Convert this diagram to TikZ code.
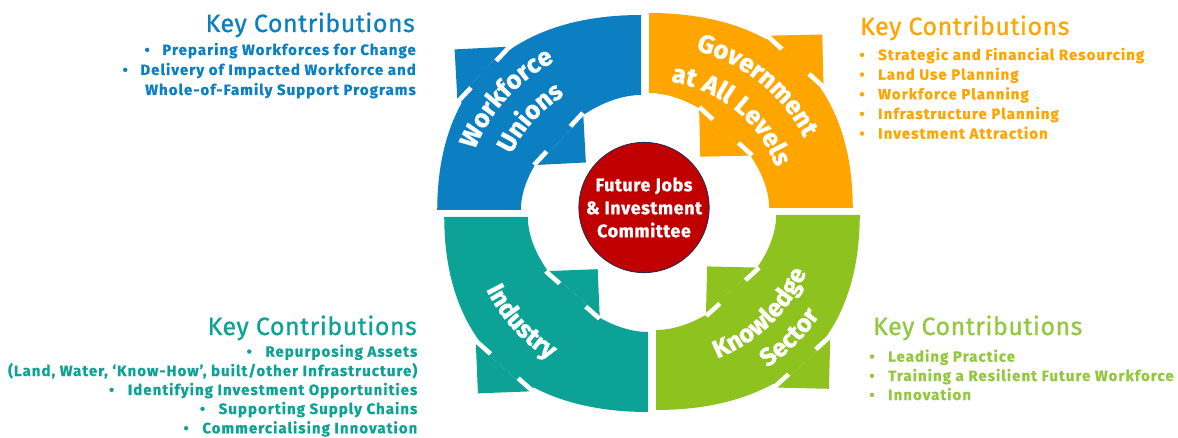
\documentclass[tikz,border=0pt]{standalone}
\usepackage{fontspec}
\setmainfont{Fira Sans}
\newfontfamily\titlefont{Fira Sans}[FakeBold=0.8,LetterSpace=2]
\newfontfamily\itemfont{Fira Sans}[UprightFont={* Bold},FakeBold=0.7,LetterSpace=7]
\newfontfamily\hubfont{Fira Sans}[UprightFont={* Bold},FakeBold=1.0,LetterSpace=3]
\newfontfamily\labelfont{Fira Sans}[UprightFont={* Bold},FakeBold=1.4,LetterSpace=4]
\newfontfamily\innerlabelfont{Fira Sans}[UprightFont={* Bold},FakeBold=1.4,LetterSpace=9]
\usetikzlibrary{calc,decorations.text}

\definecolor{wfblue}{HTML}{0B7FC2}
\definecolor{govorange}{HTML}{FFA500}
\definecolor{indteal}{HTML}{0CA396}
\definecolor{knowgreen}{HTML}{8DC21F}
\definecolor{greentext}{HTML}{92C83E}
\definecolor{hubred}{HTML}{C00000}
\definecolor{hubedge}{HTML}{1F2F5A}

% labels whose letters face outward / inward
\newcommand{\ringfont}{\labelfont\fontsize{25.5}{25.5}\selectfont}
\newcommand{\ringfontin}{\innerlabelfont\fontsize{25}{25}\selectfont}

% One quarter of the ring: curved band plus a double arrow across it.
% #1 corner, #2 band rotation, #3 arrow direction, #4 colour
\newcommand{\ringpart}[4]{%
  \begin{scope}[shift={#1}, xscale=1.045]
    \fill[#4, rotate=#2] (195,0) .. controls (195,124.8) and (124.8,195) .. (0,195)
      -- (0,115) .. controls (51.75,115) and (115,51.75) .. (115,0) -- cycle;
    \begin{scope}[rotate=#3]
      \fill[#4] (190,35) -- (205,35) -- (205,-35) -- (190,-35) -- cycle;
      \fill[#4] (205,35) -- (240,0) -- (205,-35) -- cycle;
      \fill[#4] (104,33) -- (118,33) -- (118,-33) -- (104,-33) -- cycle;
      \fill[#4] (104,33) -- (71,0) -- (104,-33) -- cycle;
      \fill[white] (200.5,18) rectangle (205,37);
      \fill[white] (200.5,-18) rectangle (205,-37);
      \fill[white] (104,17) rectangle (108.5,35);
      \fill[white] (104,-17) rectangle (108.5,-35);
    \end{scope}
  \end{scope}}

% Curved white label.
% #1 corner, #2 start angle, #3 end angle, #4 x radius, #5 y radius, #6 font, #7 text
\newcommand{\arclabel}[7]{%
  \begin{scope}[shift={#1}]
    \path[decorate, decoration={text along path, text align=center,
        text color=white, text={|#6|#7}}]
      (#2:#4 and #5) arc[start angle=#2, end angle=#3, x radius=#4, y radius=#5];
  \end{scope}}

\tikzset{
  heading/.style={inner sep=0pt, font=\titlefont\fontsize{25}{25}\selectfont},
  entry/.style={inner sep=0pt, font=\itemfont\fontsize{15}{15}\selectfont},
  dot/.style={inner sep=0pt, anchor=base, font=\itemfont\fontsize{15}{15}\selectfont},
}

\begin{document}
\begin{tikzpicture}[x=1pt, y=1pt]
  \useasboundingbox (0,0) rectangle (1178,437);

  % ring quarters
  \ringpart{(641,227)}{90}{138}{wfblue}
  \ringpart{(649,229)}{0}{46.3}{govorange}
  \ringpart{(648,220)}{180}{227.3}{indteal}
  \ringpart{(656,222)}{270}{313.6}{knowgreen}

  % quarter labels
  \arclabel{(641,227)}{200}{80}{177.6}{170}{\ringfont}{Workforce}
  \arclabel{(641,227)}{200}{80}{142.1}{136}{\ringfont}{Unions}
  \arclabel{(649,229)}{109}{-11}{171.4}{164}{\ringfont}{Government}
  \arclabel{(649,229)}{109}{-11}{133.8}{128}{\ringfont}{at All Levels}
  \arclabel{(648,220)}{160}{280}{178.7}{171}{\ringfontin}{Industry}
  \arclabel{(656,222)}{-104}{16}{162}{155}{\ringfontin}{Knowledge}
  \arclabel{(656,222)}{-103}{17}{194.4}{186}{\ringfontin}{Sector}

  % hub
  \node[circle, fill=hubred, draw=hubedge, line width=0.8pt, minimum size=129pt,
        inner sep=0pt, align=center, text=white,
        font=\hubfont\fontsize{18}{23}\selectfont] (hub) at (644,229.5)
        {Future Jobs\\\& Investment\\Committee};

  % workforce unions
  \node[heading, text=wfblue, anchor=base east] (wt) at (415,405) {Key Contributions};
  \node[entry, text=wfblue, anchor=base east] (w1) at (416,382) {Preparing Workforces for Change};
  \node[entry, text=wfblue, anchor=base east] (w2) at (416,362) {Delivery of Impacted Workforce and};
  \node[entry, text=wfblue, anchor=base east] (w3) at (416,342) {Whole-of-Family Support Programs};
  \node[dot, text=wfblue] (w1d) at ($(w1.base west)+(-15,0)$) {\textbullet};
  \node[dot, text=wfblue] (w2d) at ($(w2.base west)+(-15,0)$) {\textbullet};

  % government
  \node[heading, text=govorange, anchor=base west] (gt) at (860,402) {Key Contributions};
  \node[entry, text=govorange, anchor=base west] (g1) at (878,377) {Strategic and Financial Resourcing};
  \node[entry, text=govorange, anchor=base west] (g2) at (878,357.3) {Land Use Planning};
  \node[entry, text=govorange, anchor=base west] (g3) at (878,337.6) {Workforce Planning};
  \node[entry, text=govorange, anchor=base west] (g4) at (878,318) {Infrastructure Planning};
  \node[entry, text=govorange, anchor=base west] (g5) at (878,298.3) {Investment Attraction};
  \foreach \n in {1,...,5}
    \node[dot, text=govorange] (g\n d) at ($(g\n.base west)+(-16,0)$) {\textbullet};

  % industry
  \node[heading, text=indteal, anchor=base east] (it) at (417,102) {Key Contributions};
  \node[entry, text=indteal, anchor=base east] (i1) at (417.5,80.3) {Repurposing Assets};
  \node[entry, text=indteal, anchor=base east] (i2) at (417.5,61) {(Land, Water, ‘Know-How’, built/other Infrastructure)};
  \node[entry, text=indteal, anchor=base east] (i3) at (417.5,42) {Identifying Investment Opportunities};
  \node[entry, text=indteal, anchor=base east] (i4) at (417.5,23) {Supporting Supply Chains};
  \node[entry, text=indteal, anchor=base east] (i5) at (417.5,3.7) {Commercialising Innovation};
  \foreach \n in {1,3,4,5}
    \node[dot, text=indteal] (i\n d) at ($(i\n.base west)+(-16,0)$) {\textbullet};

  % knowledge sector
  \node[heading, text=greentext, anchor=base west] (kt) at (873,102) {Key Contributions};
  \node[entry, text=greentext, anchor=base west] (k1) at (888,75.3) {Leading Practice};
  \node[entry, text=greentext, anchor=base west] (k2) at (888,56) {Training a Resilient Future Workforce};
  \node[entry, text=greentext, anchor=base west] (k3) at (888,37) {Innovation};
  \foreach \n in {1,2,3}
    \node[dot, text=greentext] (k\n d) at ($(k\n.base west)+(-16,0)$) {\textbullet};
\end{tikzpicture}
\end{document}
